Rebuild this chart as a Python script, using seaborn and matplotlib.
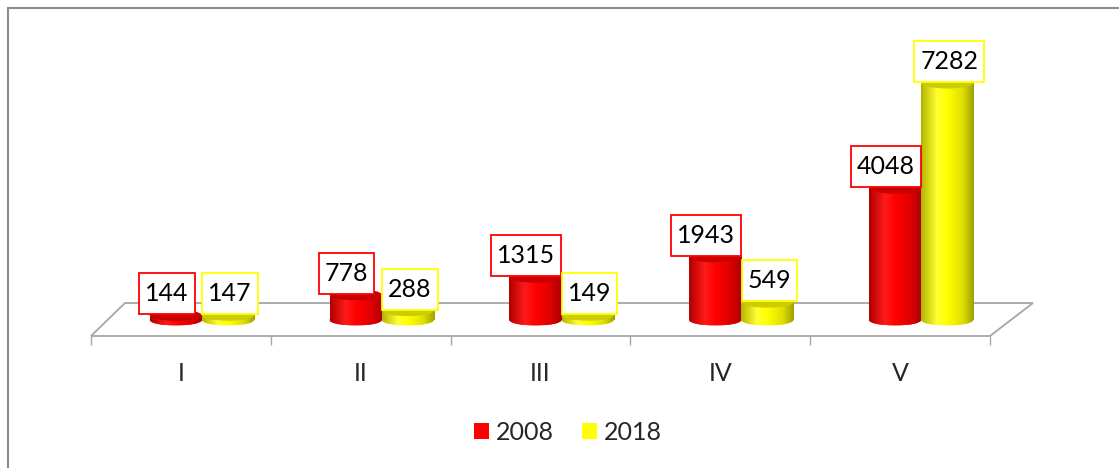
import numpy as np
import pandas as pd
import seaborn as sns
import matplotlib.pyplot as plt
from matplotlib.patches import Ellipse, Polygon, Rectangle, Patch
from matplotlib.path import Path
from matplotlib.colors import LinearSegmentedColormap
from matplotlib.transforms import ScaledTranslation

# Data
categories = ["I", "II", "III", "IV", "V"]
years = ["2008", "2018"]
values_2008 = [144, 778, 1315, 1943, 4048]
values_2018 = [147, 288, 149, 549, 7282]

colors = {"2008": "#ff0000", "2018": "#ffff00"}
top_colors = {"2008": "#c80000", "2018": "#cccc00"}
shade = {
    "2008": ["#b00000", "#ff1a1a", "#ff0000", "#e00000", "#a80000"],
    "2018": ["#b4b400", "#ffff33", "#ffff00", "#e0e000", "#a0a000"],
}

df = pd.DataFrame({
    "category": categories * 2,
    "year": [years[0]] * 5 + [years[1]] * 5,
    "value": values_2008 + values_2018,
})

sns.set_style("white")
plt.rcParams["font.family"] = ["Lato", "DejaVu Sans"]
FS = 18


def label_box(x0, y0, width, height, mutation_size):
    # rectangle with more vertical than horizontal padding
    px, py = 0.24 * mutation_size, 0.36 * mutation_size
    x0, y0 = x0 - px, y0 - py
    x1, y1 = x0 + width + 2 * px, y0 + height + 2 * py
    return Path([(x0, y0), (x1, y0), (x1, y1), (x0, y1), (x0, y0)], closed=True)


W, H = 1119, 468
fig = plt.figure(figsize=(W / 100, H / 100), dpi=100)
# axes: front edge of the floor is the bottom of the axes
ax = fig.add_axes([91 / W, 1 - 336 / H, 899 / W, 306 / H])

per_px = 7282 / 237.0  # data units per pixel on y
ymax = 306 * per_px

sns.barplot(data=df, x="category", y="value", hue="year", palette=colors,
            width=0.58, saturation=1, ax=ax, legend=False, zorder=2)

# bars sit in the middle of the 3D floor
bar_trans = ax.transData + ScaledTranslation(21 / 100, 16 / 100, fig.dpi_scale_trans)
eh = 11 * per_px  # ellipse height in data units

# floor (drawn in axes coordinates)
floor = Polygon([(0, 0), (1, 0), (1 + 43 / 899, 33 / 306), (34 / 899, 33 / 306)],
                closed=True, fill=False, edgecolor="#a6a6a6", lw=1.3,
                transform=ax.transAxes, clip_on=False, zorder=0.5)
ax.add_patch(floor)

grad = np.linspace(0, 1, 256)[None, :]
for cont, year in zip(ax.containers, years):
    cmap = LinearSegmentedColormap.from_list(
        "c" + year, list(zip([0, 0.3, 0.5, 0.78, 1], shade[year])))
    for bar in cont:
        bar.set_transform(bar_trans)
        bar.set_edgecolor("none")
        x0 = bar.get_x()
        w = bar.get_width()
        h = bar.get_height()
        cx = x0 + w / 2
        bottom = Ellipse((cx, 0), w, eh, transform=bar_trans,
                         facecolor=colors[year], edgecolor="none", zorder=2)
        ax.add_patch(bottom)
        for clip, ext in [(bar, (x0, x0 + w, 0, h)),
                          (bottom, (x0, x0 + w, -eh / 2, 0))]:
            im = ax.imshow(grad, cmap=cmap, extent=ext, aspect="auto",
                           transform=bar_trans, interpolation="bilinear", zorder=2.2)
            im.set_clip_path(clip)
        top = Ellipse((cx, h), w, eh, transform=bar_trans,
                      facecolor=top_colors[year], edgecolor="none", zorder=2.5)
        ax.add_patch(top)
        dx = -9 if year == "2008" else 2
        ax.annotate(f"{int(round(h))}", xy=(cx, h), xycoords=bar_trans,
                    xytext=(dx * 0.72, 21.5 * 0.72), textcoords="offset points",
                    ha="center", va="center", fontsize=FS, color="black", zorder=4,
                    bbox=dict(boxstyle=label_box, fc="white",
                              ec=colors[year], lw=1.3))

ax.set_xlim(-0.5, 4.5)
ax.set_ylim(0, ymax)
for s in ax.spines.values():
    s.set_visible(False)
ax.set_yticks([])
ax.set_xticks(range(len(categories)))
ax.set_xticklabels(categories, fontsize=FS)
ax.set_xticks(np.arange(-0.5, 5, 1.0), minor=True)
ax.tick_params(axis="x", which="major", length=0, pad=19)
ax.tick_params(axis="x", which="minor", length=6.5, width=1.0, color="#a6a6a6",
               direction="out", bottom=True)
ax.set_xlabel("")
ax.set_ylabel("")
ax.patch.set_alpha(0)

handles = [Patch(facecolor=colors[y], edgecolor="none") for y in years]
fig.legend(handles, years, loc="center", bbox_to_anchor=(568 / W, 1 - 432 / H),
           ncol=2, frameon=False, fontsize=FS, handlelength=0.6,
           handleheight=0.6, handletextpad=0.3, columnspacing=1.1)

# outer chart frame (only top and left edges visible)
fig.add_artist(Rectangle((7.5 / W, -0.5), 2, 1.5 - 7.5 / H, transform=fig.transFigure,
                         fill=False, edgecolor="#8c8c8c", lw=1.5))

fig.savefig("out.png", dpi=100, facecolor="white")
